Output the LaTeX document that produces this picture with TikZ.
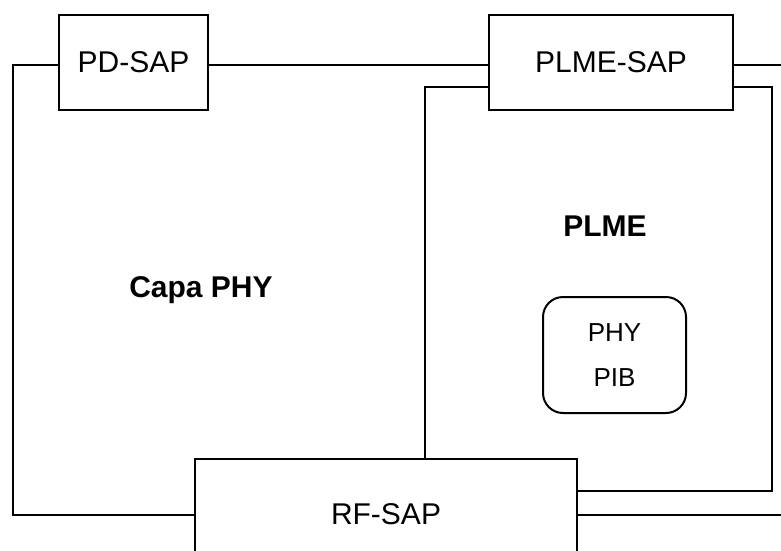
\documentclass[tikz,border=0pt]{standalone}
\usepackage{fontspec}
\setmainfont{Liberation Sans}
\usetikzlibrary{positioning}

\begin{document}
\begin{tikzpicture}[x=1pt,y=-1pt,line width=2pt]
  \useasboundingbox (0,0) rectangle (781,550);
  \clip (0,0) rectangle (781,550);

  \tikzstyle{SapStyle}=[draw,inner sep=0pt,font=\fontsize{30}{36}\selectfont]
  \tikzstyle{TitleStyle}=[anchor=base,font=\fontsize{30}{36}\selectfont\bfseries]
  \tikzstyle{PibStyle}=[draw,rounded corners=20,align=center,font=\fontsize{26}{45}\selectfont]

  % service access points
  \node[SapStyle,minimum width=149,minimum height=95] (pdsap) at (133.5,62.5) {PD-SAP};
  \node[SapStyle,minimum width=244,minimum height=95] (plmesap) at (611,62.5) {PLME-SAP};
  \node[SapStyle,minimum width=382,minimum height=110] (rfsap) at (386,514) {RF-SAP};

  % layer labels
  \node[TitleStyle] (capa) at (201,297) {Capa PHY};
  \node[TitleStyle] (plme) at (605,236) {PLME};
  \node[PibStyle,minimum width=143,minimum height=116] (pib) at (614.5,355) {PHY\\PIB};

  % free ends of the connectors
  \coordinate (tl) at (13,65);
  \coordinate (bl) at (13,515);
  \coordinate (tr) at (781,65);
  \coordinate (br) at (781,515);
  \coordinate (ptl) at (425,87);
  \coordinate (ptr) at (772,87);
  \coordinate (pbr) at (772,491);

  \draw (pdsap.west |- tl) -- (tl) -- (bl) -- (rfsap.west |- bl);
  \draw (pdsap.east |- tl) -- (plmesap.west |- tl);
  \draw (plmesap.east |- tr) -- (tr);
  \draw (rfsap.east |- br) -- (br);
  \draw (plmesap.west |- ptl) -- (ptl) -- (ptl |- rfsap.north);
  \draw (plmesap.east |- ptr) -- (ptr) -- (pbr) -- (rfsap.east |- pbr);
\end{tikzpicture}
\end{document}
